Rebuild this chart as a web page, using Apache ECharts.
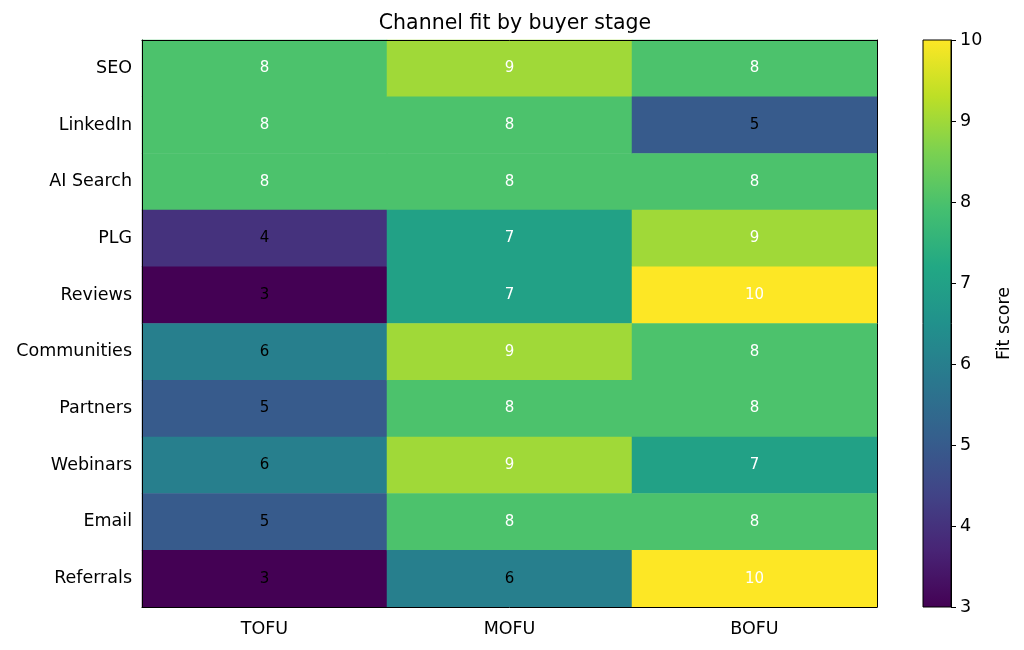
<!DOCTYPE html>
<html>
<head>
<meta charset="utf-8">
<script src="https://cdn.jsdelivr.net/npm/echarts@6/dist/echarts.min.js"></script>
<style>
  html, body { margin: 0; padding: 0; background: #fff; }
  #chart { width: 1024px; height: 650px; }
</style>
</head>
<body>
<div id="chart"></div>
<script>
// stages on x, channels on y (top to bottom)
const stages = ['TOFU', 'MOFU', 'BOFU'];
const channels = ['SEO', 'LinkedIn', 'AI Search', 'PLG', 'Reviews', 'Communities', 'Partners', 'Webinars', 'Email', 'Referrals'];

// fit score per channel, one array per stage
const tofu = [8, 8, 8, 4, 3, 6, 5, 6, 5, 3];
const mofu = [9, 8, 8, 7, 7, 9, 8, 9, 8, 6];
const bofu = [8, 5, 8, 9, 10, 8, 8, 7, 8, 10];

const scoreMin = 3;
const scoreMax = 10;

const viridis = ['#440154', '#482475', '#414487', '#355f8d', '#2a788e', '#21918c', '#22a884', '#44bf70', '#7ad151', '#bddf26', '#fde725'];
const font = 'DejaVu Sans';
const fs = 17.5;

// build heatmap cells [x, y, value]
const cells = [];
[tofu, mofu, bofu].forEach((col, x) => {
  col.forEach((v, y) => {
    cells.push({
      value: [x, y, v],
      label: { color: v <= 6 ? '#000' : '#fff' }
    });
  });
});

const frameAxis = {
  axisLine: { show: true, lineStyle: { color: '#000', width: 1 } },
  axisTick: { show: false },
  axisLabel: { show: false },
  splitLine: { show: false }
};

const chart = echarts.init(document.getElementById('chart'));

chart.setOption({
  animation: false,
  title: {
    text: 'Channel fit by buyer stage',
    left: 510,
    textAlign: 'center',
    top: 8,
    textStyle: { fontFamily: font, fontSize: 20.5, fontWeight: 'normal', color: '#000' }
  },
  grid: [
    { left: 142, right: 147, top: 40, bottom: 43 },
    { left: 923, width: 28, top: 40, bottom: 43 }
  ],
  xAxis: [
    {
      type: 'category',
      gridIndex: 0,
      data: stages,
      axisLine: { lineStyle: { color: '#000', width: 1 } },
      axisTick: { alignWithLabel: true, length: 5, lineStyle: { color: '#000' } },
      axisLabel: { fontFamily: font, fontSize: fs, color: '#000', margin: 13 },
      splitLine: { show: false },
      z: 5
    },
    Object.assign({ type: 'category', gridIndex: 0, data: stages, position: 'top', z: 5 }, frameAxis),
    {
      type: 'category',
      gridIndex: 1,
      data: [''],
      axisLine: { show: false },
      axisTick: { show: false },
      axisLabel: { show: false }
    }
  ],
  yAxis: [
    {
      type: 'category',
      gridIndex: 0,
      data: channels,
      inverse: true,
      axisLine: { lineStyle: { color: '#000', width: 1 } },
      axisTick: { alignWithLabel: true, length: 5, lineStyle: { color: '#000' } },
      axisLabel: { fontFamily: font, fontSize: fs, color: '#000', margin: 10 },
      splitLine: { show: false },
      z: 5
    },
    Object.assign({ type: 'category', gridIndex: 0, data: channels, inverse: true, position: 'right', z: 5 }, frameAxis),
    {
      type: 'value',
      gridIndex: 1,
      position: 'right',
      min: scoreMin,
      max: scoreMax,
      interval: 1,
      name: 'Fit score',
      nameLocation: 'middle',
      nameRotate: 90,
      nameGap: 44,
      nameTextStyle: { fontFamily: font, fontSize: fs, color: '#000' },
      axisLine: { show: true, lineStyle: { color: '#000' } },
      axisTick: { show: true, length: 5, lineStyle: { color: '#000' } },
      axisLabel: { fontFamily: font, fontSize: fs, color: '#000', margin: 9 },
      splitLine: { show: false }
    }
  ],
  visualMap: {
    show: false,
    min: scoreMin,
    max: scoreMax,
    dimension: 2,
    seriesIndex: 0,
    inRange: { color: viridis }
  },
  series: [
    {
      type: 'heatmap',
      xAxisIndex: 0,
      yAxisIndex: 0,
      data: cells,
      label: { show: true, fontFamily: font, fontSize: 15 },
      itemStyle: { borderWidth: 0 },
      emphasis: { disabled: true }
    },
    {
      // colorbar: one gradient rect from scoreMin to scoreMax
      type: 'custom',
      xAxisIndex: 2,
      yAxisIndex: 2,
      data: [[0, scoreMin, scoreMax]],
      renderItem: function (params, api) {
        const bottom = api.coord([0, api.value(1)]);
        const top = api.coord([0, api.value(2)]);
        const cs = params.coordSys;
        return {
          type: 'rect',
          shape: { x: cs.x, y: top[1], width: cs.width, height: bottom[1] - top[1] },
          style: {
            fill: new echarts.graphic.LinearGradient(0, 1, 0, 0,
              viridis.map((c, i) => ({ offset: i / (viridis.length - 1), color: c }))),
            stroke: '#000',
            lineWidth: 1
          }
        };
      }
    }
  ]
});
</script>
</body>
</html>
